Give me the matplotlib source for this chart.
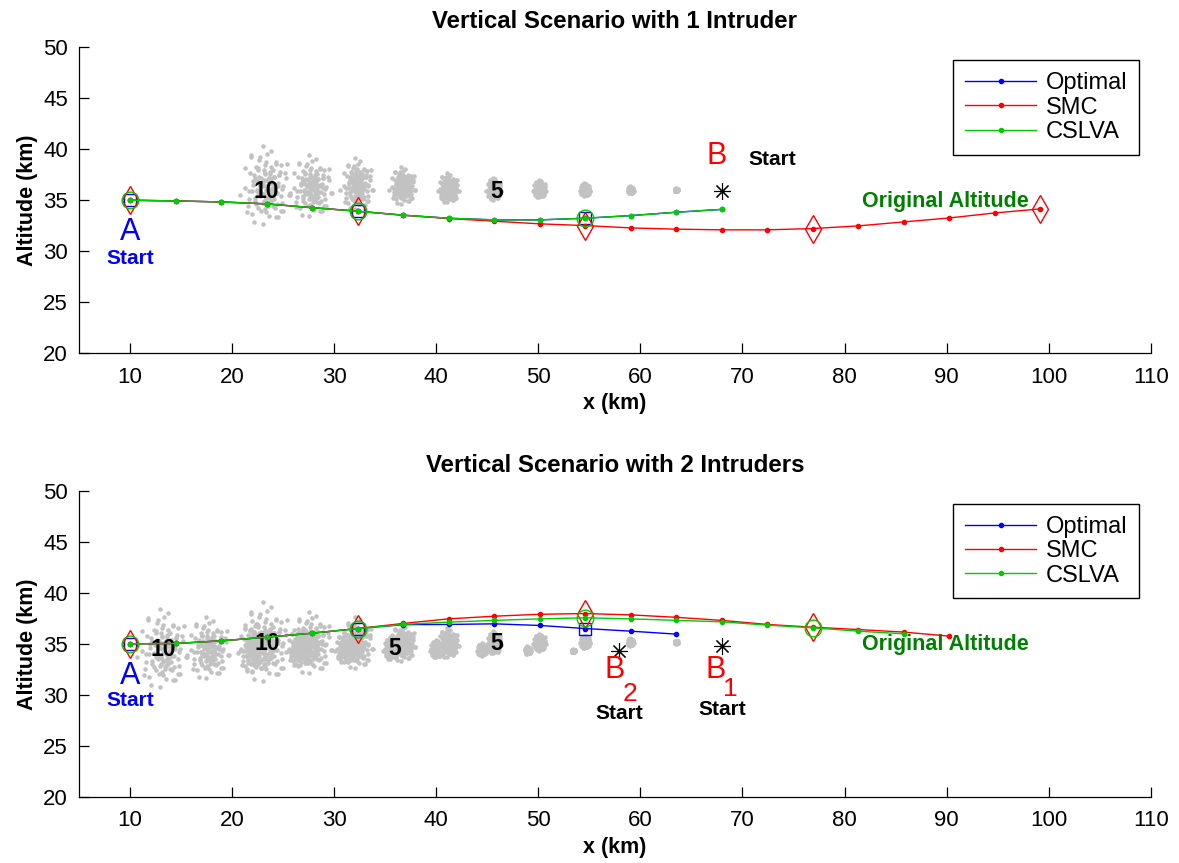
import matplotlib
matplotlib.use("Agg")
import matplotlib.pyplot as plt

plt.rcParams['font.family'] = ['Liberation Sans', 'DejaVu Sans']

# trajectory samples (km)
x_steps = [10.0, 14.46, 18.92, 23.38, 27.84, 32.3, 36.76, 41.22, 45.68, 50.14, 54.6,
           59.06, 63.52, 67.98, 72.44, 76.9, 81.36, 85.82, 90.28, 94.74, 99.2]

# scenario 1 (one intruder)
s1_optimal = [35.0, 34.93, 34.83, 34.64, 34.27, 33.92, 33.53, 33.23, 33.07, 33.07, 33.23, 33.49, 33.82, 34.1]
s1_smc = [35.0, 34.93, 34.83, 34.64, 34.27, 33.92, 33.53, 33.2, 32.94, 32.68, 32.51, 32.28, 32.16, 32.09,
          32.09, 32.22, 32.48, 32.87, 33.26, 33.75, 34.15]
s1_cslva = [35.0, 34.93, 34.83, 34.64, 34.27, 33.92, 33.53, 33.23, 33.07, 33.07, 33.23, 33.49, 33.82, 34.1]

# scenario 2 (two intruders)
s2_optimal = [35.0, 35.03, 35.29, 35.65, 36.04, 36.5, 36.88, 36.9, 36.96, 36.8, 36.5, 36.24, 35.95]
s2_smc = [35.0, 35.03, 35.29, 35.65, 36.04, 36.5, 37.0, 37.45, 37.71, 37.9, 37.97, 37.84, 37.6, 37.3,
          36.9, 36.63, 36.4, 36.15, 35.75]
s2_cslva = [35.0, 35.03, 35.29, 35.65, 36.04, 36.5, 36.9, 37.13, 37.3, 37.45, 37.55, 37.45, 37.3, 37.16,
            36.83, 36.57, 36.24, 35.98]

# intruder start points
s1_intruder = (67.98, 35.94)
s2_intruder1 = (67.95, 34.77)
s2_intruder2 = (57.9, 34.28)

# predicted intruder clouds: centres and spreads (1..10 steps ahead)
s1_cloud_x = [63.52, 59.06, 54.6, 50.14, 45.68, 41.22, 36.76, 32.3, 27.84, 23.38]
s1_cloud_y = [36.0, 36.0, 36.0, 36.05, 36.05, 36.1, 36.3, 36.4, 36.2, 36.2]
s2_cloud1_x = [63.52, 59.06, 54.6, 50.14, 45.68, 41.22, 36.76, 32.3, 27.84, 23.38]
s2_cloud1_y = [35.15, 35.15, 35.15, 35.1, 35.05, 35.0, 34.95, 34.9, 34.9, 34.9]
s2_cloud2_x = [53.44, 48.98, 44.52, 40.06, 35.6, 31.14, 26.68, 22.22, 17.76, 13.3]
s2_cloud2_y = [34.3, 34.35, 34.4, 34.45, 34.5, 34.5, 34.5, 34.5, 34.4, 34.3]
cloud_sx = [0.06, 0.12, 0.2, 0.25, 0.3, 0.42, 0.52, 0.65, 0.85, 1.0]
cloud_sy = [0.06, 0.15, 0.25, 0.35, 0.45, 0.6, 0.75, 1.05, 1.25, 1.6]

# hand-typed sample pattern (in spread units), reused for every cloud
cloud_pattern = [
    (0.1, 0.2), (-0.3, 0.5), (0.6, -0.2), (-0.8, -0.4), (0.2, -0.9), (1.1, 0.3), (-1.2, 0.8), (0.4, 1.3),
    (-0.5, -1.4), (1.5, -0.9), (-0.1, -0.1), (0.7, 0.7), (-0.6, 0.1), (0.3, -0.5), (-1.0, -1.0), (0.9, 1.6),
    (-1.7, -0.2), (0.0, 2.1), (1.9, 0.6), (-0.4, -2.2), (0.5, 0.0), (-0.2, 0.9), (0.8, -1.2), (-0.9, 0.4),
    (1.3, 1.0), (-1.4, -1.6), (0.2, 0.6), (-0.7, 1.7), (2.3, -0.4), (-2.1, 1.2), (0.0, -0.6), (0.4, 0.3),
    (-0.3, -0.8), (1.0, -0.3), (-0.5, 0.6), (0.6, 1.1), (-1.1, -0.6), (1.6, 0.1), (-0.2, 1.4), (0.9, -1.8),
    (0.3, -0.2), (-0.6, -0.3), (0.1, -1.1), (-1.3, 0.2), (1.2, 0.8), (-0.8, 1.1), (0.7, -0.7), (-0.4, 2.6),
    (2.0, 1.5), (-1.8, -1.1), (0.15, 0.45), (-0.45, 0.25), (0.55, -0.45), (-0.25, -0.35), (0.35, 0.85),
    (-0.95, -0.15), (0.85, 0.15), (-0.05, -1.5), (1.4, -1.4), (-1.5, 1.9),
]

xticks = [10, 20, 30, 40, 50, 60, 70, 80, 90, 100, 110]
yticks = [20, 25, 30, 35, 40, 45, 50]

BLUE = (0, 0, 1)
RED = (1, 0, 0)
GREEN = (0, 0.8, 0)
DKGREEN = (0, 0.5, 0)
GRAY = (0.76, 0.76, 0.76)


def draw_cloud(ax, cx, cy):
    px, py = [], []
    for x0, y0, sx, sy in zip(cx, cy, cloud_sx, cloud_sy):
        for dx, dy in cloud_pattern:
            px.append(x0 + dx * sx)
            py.append(y0 + dy * sy)
            px.append(x0 - dy * sx)
            py.append(y0 + dx * sy)
    ax.plot(px, py, '.', color=GRAY, markersize=4.5, zorder=1)


def draw_paths(ax, optimal, smc, cslva):
    ax.plot(x_steps[:len(optimal)], optimal, '-', marker='.', color=BLUE, lw=1.0, markersize=6, label='Optimal', zorder=3)
    ax.plot(x_steps[:len(smc)], smc, '-', marker='.', color=RED, lw=1.0, markersize=6, label='SMC', zorder=4)
    ax.plot(x_steps[:len(cslva)], cslva, '-', marker='.', color=GREEN, lw=1.0, markersize=6, label='CSLVA', zorder=5)
    ax.plot(x_steps[:len(optimal):5], optimal[::5], 's', mfc='none', mec=BLUE, markersize=9, mew=1.0, zorder=3)
    ax.plot(x_steps[:len(smc):5], smc[::5], 'd', mfc='none', mec=RED, markersize=14, mew=1.0, zorder=4)
    ax.plot(x_steps[:len(cslva):5], cslva[::5], 'o', mfc='none', mec=GREEN, markersize=12, mew=1.0, zorder=5)


def style_axes(ax, title):
    ax.set_xlim(5, 110)
    ax.set_ylim(20, 50)
    ax.set_xticks(xticks)
    ax.set_yticks(yticks)
    ax.spines['top'].set_visible(False)
    ax.spines['right'].set_visible(False)
    ax.spines['left'].set_linewidth(0.9)
    ax.spines['bottom'].set_linewidth(0.9)
    ax.tick_params(direction='in', length=7, width=0.9, labelsize=16)
    ax.tick_params(axis='x', pad=10)
    ax.tick_params(axis='y', pad=8)
    ax.set_xlabel('x (km)', fontsize=15.5, fontweight='bold', labelpad=4)
    ax.set_ylabel('Altitude (km)', fontsize=15.5, fontweight='bold', labelpad=4)
    ax.set_title(title, fontsize=17.3, fontweight='bold', pad=14)
    leg = ax.legend(loc='upper right', bbox_to_anchor=(0.989, 0.9575), borderaxespad=0, fontsize=17,
                    fancybox=False, framealpha=1, edgecolor='black', handlelength=3.0, handletextpad=0.4,
                    borderpad=0.5, labelspacing=0.1)
    leg.get_frame().set_linewidth(1.0)


fig = plt.figure(figsize=(11.79, 8.63), dpi=100)
ax1 = fig.add_axes([0.067, 0.591, 0.909, 0.354])
ax2 = fig.add_axes([0.067, 0.077, 0.909, 0.354])

star = (8, 2, 0)

# top panel
draw_cloud(ax1, s1_cloud_x, s1_cloud_y)
draw_paths(ax1, s1_optimal, s1_smc, s1_cslva)
ax1.plot(*s1_intruder, marker=star, color='black', markersize=12, mew=0.8, linestyle='none')
ax1.text(10, 31.9, 'A', color=BLUE, fontsize=22, ha='center', va='center')
ax1.text(10, 29.3, 'Start', color=BLUE, fontsize=15, fontweight='bold', ha='center', va='center')
ax1.text(67.5, 39.3, 'B', color=RED, fontsize=22, ha='center', va='center')
ax1.text(72.9, 38.95, 'Start', color='black', fontsize=15, fontweight='bold', ha='center', va='center')
ax1.text(23.3, 35.9, '10', fontsize=16.5, fontweight='bold', ha='center', va='center')
ax1.text(45.9, 35.85, '5', fontsize=16.5, fontweight='bold', ha='center', va='center')
ax1.text(89.9, 34.9, 'Original Altitude', color=DKGREEN, fontsize=15.5, fontweight='bold', ha='center', va='center')
style_axes(ax1, 'Vertical Scenario with 1 Intruder')

# bottom panel
draw_cloud(ax2, s2_cloud1_x, s2_cloud1_y)
draw_cloud(ax2, s2_cloud2_x, s2_cloud2_y)
draw_paths(ax2, s2_optimal, s2_smc, s2_cslva)
ax2.plot(*s2_intruder1, marker=star, color='black', markersize=12, mew=0.8, linestyle='none')
ax2.plot(*s2_intruder2, marker=star, color='black', markersize=12, mew=0.8, linestyle='none')
ax2.text(10, 31.85, 'A', color=BLUE, fontsize=22, ha='center', va='center')
ax2.text(10, 29.4, 'Start', color=BLUE, fontsize=15, fontweight='bold', ha='center', va='center')
ax2.text(57.5, 32.45, 'B', color=RED, fontsize=22, ha='center', va='center')
ax2.text(59.0, 30.1, '2', color=RED, fontsize=19, ha='center', va='center')
ax2.text(57.9, 28.2, 'Start', color='black', fontsize=15, fontweight='bold', ha='center', va='center')
ax2.text(67.4, 32.4, 'B', color=RED, fontsize=22, ha='center', va='center')
ax2.text(68.8, 30.6, '1', color=RED, fontsize=19, ha='center', va='center')
ax2.text(68.0, 28.55, 'Start', color='black', fontsize=15, fontweight='bold', ha='center', va='center')
ax2.text(13.3, 34.45, '10', fontsize=16.5, fontweight='bold', ha='center', va='center')
ax2.text(23.4, 35.0, '10', fontsize=16.5, fontweight='bold', ha='center', va='center')
ax2.text(35.9, 34.5, '5', fontsize=16.5, fontweight='bold', ha='center', va='center')
ax2.text(45.9, 35.07, '5', fontsize=16.5, fontweight='bold', ha='center', va='center')
ax2.text(89.9, 34.93, 'Original Altitude', color=DKGREEN, fontsize=15.5, fontweight='bold', ha='center', va='center')
style_axes(ax2, 'Vertical Scenario with 2 Intruders')

fig.savefig('out.png', dpi=100)
